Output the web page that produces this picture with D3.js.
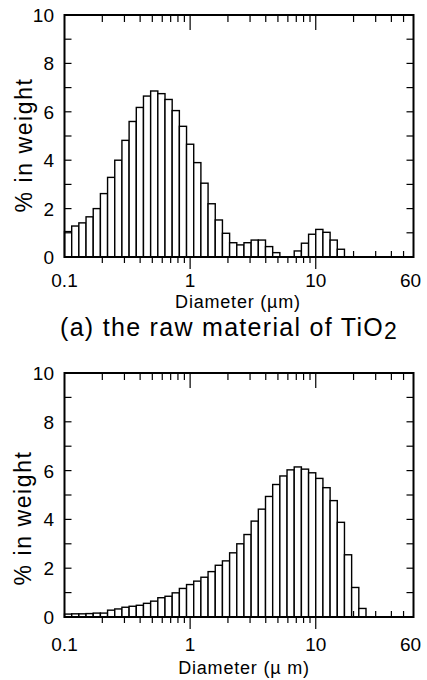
<!DOCTYPE html>
<html>
<head>
<meta charset="utf-8">
<script src="https://cdn.jsdelivr.net/npm/d3@7"></script>
<style>
  html, body { margin: 0; padding: 0; background: #fff; }
  svg text { font-family: "Liberation Sans", Arial, sans-serif; fill: #000; }
</style>
</head>
<body>
<div id="chart"></div>
<script>
// Bin lower edges (µm), log-spaced size classes, last value = upper edge of last bin
const diameters = [0.1, 0.1141, 0.1301, 0.1484, 0.1693, 0.1931, 0.2202, 0.2512, 0.2865, 0.3268,
  0.3728, 0.4252, 0.4850, 0.5532, 0.6310, 0.7197, 0.8210, 0.9364, 1.0681, 1.2183,
  1.3896, 1.5850, 1.8080, 2.0622, 2.3522, 2.6830, 3.0603, 3.4907, 3.9816, 4.5415,
  5.1802, 5.9087, 6.7397, 7.6875, 8.7686, 10.0, 11.406, 13.010, 14.840, 16.927,
  19.307, 22.022, 25.119];

// (a) raw material of TiO2, % in weight per size class
const rawTiO2 = [1.05, 1.28, 1.41, 1.66, 2.0, 2.62, 3.29, 4.0, 4.82, 5.6,
  6.18, 6.65, 6.86, 6.75, 6.51, 6.05, 5.4, 4.66, 3.9, 3.05,
  2.2, 1.53, 0.98, 0.59, 0.5, 0.59, 0.7, 0.7, 0.43, 0.18,
  0, 0, 0.25, 0.57, 0.94, 1.14, 1.02, 0.7, 0.32];

// second sample (bottom panel), % in weight per size class
const secondSample = [0.12, 0.13, 0.13, 0.14, 0.16, 0.16, 0.28, 0.33, 0.4, 0.44,
  0.48, 0.56, 0.65, 0.79, 0.85, 0.99, 1.17, 1.33, 1.47, 1.63,
  1.86, 2.12, 2.3, 2.63, 3.0, 3.38, 3.93, 4.42, 4.94, 5.43,
  5.78, 6.03, 6.15, 6.06, 5.91, 5.68, 5.3, 4.77, 3.88, 2.55,
  1.21, 0.35];

const xMajorTicks = [0.1, 1, 10, 60];
const xMajorLabels = ["0.1", "1", "10", "60"];
const xMinorTicks = [0.2, 0.3, 0.4, 0.5, 0.6, 0.7, 0.8, 0.9, 2, 3, 4, 5, 6, 7, 8, 9, 20, 30, 40, 50];
const yLabelTicks = [0, 2, 4, 6, 8, 10];
const yAllTicks = [1, 2, 3, 4, 5, 6, 7, 8, 9];

const yTitle = "% in weight";
const captionMain = "(a) the raw material of TiO";
const captionSub = "2";

const W = 427, H = 680;
const svg = d3.select("#chart").append("svg").attr("width", W).attr("height", H);

const x = d3.scaleLog().domain([0.1, 60]).range([64.5, 413.5]);

function panel(values, top, bottom, o) {
  const y = d3.scaleLinear().domain([0, 10]).range([bottom, top]);
  const g = svg.append("g");

  // bars
  g.selectAll("rect.bar").data(values).join("rect")
    .attr("class", "bar")
    .attr("x", (d, i) => x(diameters[i]))
    .attr("width", (d, i) => x(diameters[i + 1]) - x(diameters[i]))
    .attr("y", d => y(d))
    .attr("height", d => y(0) - y(d))
    .attr("fill", "#fff")
    .attr("stroke", d => d > 0 ? "#000" : "none")
    .attr("stroke-width", 1.4);

  const [x0, x1] = x.range();
  // y ticks (inside, both sides)
  g.selectAll("line.yl").data(yAllTicks).join("line")
    .attr("x1", x0).attr("x2", x0 + 7)
    .attr("y1", d => y(d)).attr("y2", d => y(d))
    .attr("stroke", "#000").attr("stroke-width", 1.2);
  g.selectAll("line.yr").data(yAllTicks).join("line")
    .attr("x1", x1).attr("x2", x1 - 7)
    .attr("y1", d => y(d)).attr("y2", d => y(d))
    .attr("stroke", "#000").attr("stroke-width", 1.2);

  // x ticks top (inside)
  g.selectAll("line.xt").data(xMinorTicks).join("line")
    .attr("x1", d => x(d)).attr("x2", d => x(d))
    .attr("y1", top).attr("y2", top + 7)
    .attr("stroke", "#000").attr("stroke-width", 1.2);
  g.selectAll("line.xtM").data([1, 10]).join("line")
    .attr("x1", d => x(d)).attr("x2", d => x(d))
    .attr("y1", top).attr("y2", top + 15)
    .attr("stroke", "#000").attr("stroke-width", 1.2);
  // x ticks bottom
  g.selectAll("line.xb").data(xMinorTicks).join("line")
    .attr("x1", d => x(d)).attr("x2", d => x(d))
    .attr("y1", d => d >= 20 ? bottom - 6 : bottom).attr("y2", d => d >= 20 ? bottom : bottom + 6)
    .attr("stroke", "#000").attr("stroke-width", 1.2);
  g.selectAll("line.xbM").data([1, 10]).join("line")
    .attr("x1", d => x(d)).attr("x2", d => x(d))
    .attr("y1", bottom).attr("y2", bottom + 12)
    .attr("stroke", "#000").attr("stroke-width", 1.2);

  // frame
  g.append("rect").attr("x", x0).attr("y", top)
    .attr("width", x1 - x0).attr("height", bottom - top)
    .attr("fill", "none").attr("stroke", "#000").attr("stroke-width", 2);

  // y labels
  g.selectAll("text.yl").data(yLabelTicks).join("text")
    .attr("x", 54).attr("y", d => y(d) + 7)
    .attr("text-anchor", "end").attr("font-size", 19)
    .text(d => d);

  // x labels
  g.selectAll("text.xl").data(xMajorTicks).join("text")
    .attr("x", (d, i) => x(d) + (i === 3 ? -3 : 0)).attr("y", o.labelY)
    .attr("text-anchor", "middle").attr("font-size", 19)
    .text((d, i) => xMajorLabels[i]);

  // x title
  g.append("text").attr("x", o.titleX).attr("y", o.titleY)
    .attr("text-anchor", "middle").attr("font-size", 18)
    .attr("letter-spacing", 0.8)
    .text(o.title);

  // y title
  g.append("text")
    .attr("transform", `translate(${o.yTitleX},${o.yTitleY}) rotate(-90)`)
    .attr("text-anchor", "middle").attr("font-size", 23)
    .attr("letter-spacing", 1.6)
    .text(yTitle);
}

panel(rawTiO2, 15, 257, { title: "Diameter (\u00b5m)", titleX: 238, titleY: 308, labelY: 287, yTitleX: 32, yTitleY: 145 });
panel(secondSample, 373, 617, { title: "Diameter  (\u00b5 m)", titleX: 244, titleY: 674, labelY: 651, yTitleX: 31, yTitleY: 518 });

const cap = svg.append("text").attr("x", 60).attr("y", 336)
  .attr("text-anchor", "start").attr("font-size", 25).attr("letter-spacing", 1.3);
cap.append("tspan").text(captionMain);
cap.append("tspan").attr("dy", 3).attr("font-size", 23).text(captionSub);
</script>
</body>
</html>
